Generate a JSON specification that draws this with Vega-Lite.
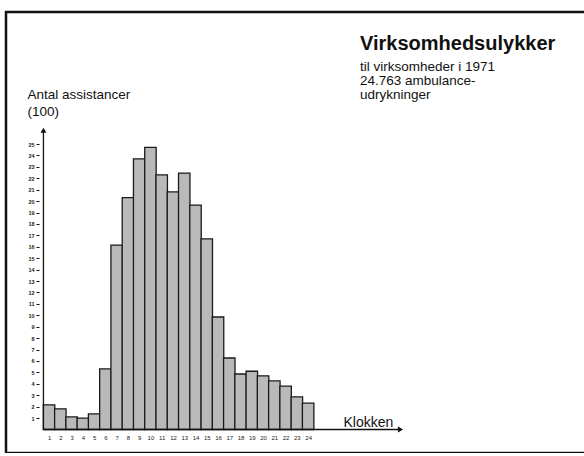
{
  "$schema": "https://vega.github.io/schema/vega-lite/v6.json",
  "width": 584,
  "height": 441,
  "autosize": {"type": "none"},
  "padding": {"left": 6, "top": 12, "right": 0, "bottom": 0},
  "background": "white",
  "config": {
    "font": "Liberation Sans",
    "view": {"stroke": "#111111", "strokeWidth": 2.5},
    "axis": {"labelOverlap": false, "labelSeparation": 0, "labelFlush": false, "grid": false, "domain": false}
  },
  "title": {
    "text": "Virksomhedsulykker",
    "subtitle": ["til virksomheder i 1971", "24.763 ambulance-", "udrykninger"],
    "anchor": "start",
    "frame": "group",
    "orient": "top",
    "dx": 354,
    "dy": 89,
    "offset": 0,
    "fontSize": 20,
    "fontWeight": "bold",
    "color": "#111111",
    "subtitleFontSize": 13.5,
    "subtitleLineHeight": 14,
    "subtitlePadding": 6,
    "subtitleColor": "#111111",
    "font": "Liberation Sans",
    "subtitleFont": "Liberation Sans"
  },
  "data": {
    "values": [
      {"hour": 1, "count": 2.15},
      {"hour": 2, "count": 1.8},
      {"hour": 3, "count": 1.1},
      {"hour": 4, "count": 1.0},
      {"hour": 5, "count": 1.36},
      {"hour": 6, "count": 5.3},
      {"hour": 7, "count": 16.15},
      {"hour": 8, "count": 20.3},
      {"hour": 9, "count": 23.7},
      {"hour": 10, "count": 24.7},
      {"hour": 11, "count": 22.3},
      {"hour": 12, "count": 20.8},
      {"hour": 13, "count": 22.45},
      {"hour": 14, "count": 19.65},
      {"hour": 15, "count": 16.7},
      {"hour": 16, "count": 9.85},
      {"hour": 17, "count": 6.26},
      {"hour": 18, "count": 4.86},
      {"hour": 19, "count": 5.1},
      {"hour": 20, "count": 4.7},
      {"hour": 21, "count": 4.25},
      {"hour": 22, "count": 3.8},
      {"hour": 23, "count": 2.85},
      {"hour": 24, "count": 2.3}
    ]
  },
  "layer": [
    {
      "mark": {"type": "bar", "width": 11.46, "fill": "#b9b9b9", "stroke": "#1a1a1a", "strokeWidth": 1.3},
      "encoding": {
        "x": {
          "field": "hour",
          "type": "quantitative",
          "scale": {"domain": [-2.38, 48.58], "nice": false, "zero": false},
          "axis": {
            "orient": "bottom",
            "offset": -23.5,
            "values": [1,2,3,4,5,6,7,8,9,10,11,12,13,14,15,16,17,18,19,20,21,22,23,24],
            "tickCount": 60,
            "format": "d",
            "domain": false,
            "grid": false,
            "ticks": false,
            "labelPadding": 5,
            "labelFontSize": 6,
            "labelColor": "#222222",
            "labelOverlap": false,
            "labelFlush": false,
            "labelSeparation": 0,
            "title": "Klokken",
            "titleFontSize": 14,
            "titleFontWeight": "normal",
            "titleColor": "#111111",
            "titleAlign": "left",
            "titleAnchor": "start",
            "titleBaseline": "alphabetic",
            "titleX": 337,
            "titleY": -3
          }
        },
        "y": {
          "field": "count",
          "type": "quantitative",
          "scale": {"domain": [-2.06, 36.56], "nice": false, "zero": false},
          "axis": {
            "orient": "left",
            "offset": -33,
            "values": [1,2,3,4,5,6,7,8,9,10,11,12,13,14,15,16,17,18,19,20,21,22,23,24,25],
            "tickCount": 60,
            "format": "d",
            "domain": false,
            "grid": false,
            "ticks": true,
            "tickSize": 3,
            "tickColor": "#111111",
            "tickWidth": 1,
            "labelPadding": 2,
            "labelFontSize": 5.5,
            "labelFontWeight": "bold",
            "labelColor": "#222222",
            "labelOverlap": false,
            "labelFlush": false,
            "labelSeparation": 0,
            "title": ["Antal assistancer", "(100)"],
            "titleAngle": 0,
            "titleFontSize": 13.5,
            "titleFontWeight": "normal",
            "titleColor": "#111111",
            "titleAlign": "left",
            "titleBaseline": "alphabetic",
            "titleLineHeight": 17,
            "titleX": -12,
            "titleY": 86
          }
        }
      }
    },
    {
      "data": {"values": [{}]},
      "mark": {"type": "rule", "color": "#111111", "strokeWidth": 1.3},
      "encoding": {
        "x": {"datum": 0.5, "type": "quantitative"},
        "x2": {"datum": 32.2},
        "y": {"datum": 0, "type": "quantitative"}
      }
    },
    {
      "data": {"values": [{}]},
      "mark": {"type": "rule", "color": "#111111", "strokeWidth": 1.3},
      "encoding": {
        "x": {"datum": 0.5, "type": "quantitative"},
        "y": {"datum": 0, "type": "quantitative"},
        "y2": {"datum": 26.2}
      }
    },
    {
      "data": {"values": [{}]},
      "mark": {"type": "point", "shape": "triangle-right", "filled": true, "color": "#111111", "size": 35, "opacity": 1},
      "encoding": {
        "x": {"datum": 32.2, "type": "quantitative"},
        "y": {"datum": 0, "type": "quantitative"}
      }
    },
    {
      "data": {"values": [{}]},
      "mark": {"type": "point", "shape": "triangle-up", "filled": true, "color": "#111111", "size": 35, "opacity": 1},
      "encoding": {
        "x": {"datum": 0.5, "type": "quantitative"},
        "y": {"datum": 26.2, "type": "quantitative"}
      }
    }
  ]
}
